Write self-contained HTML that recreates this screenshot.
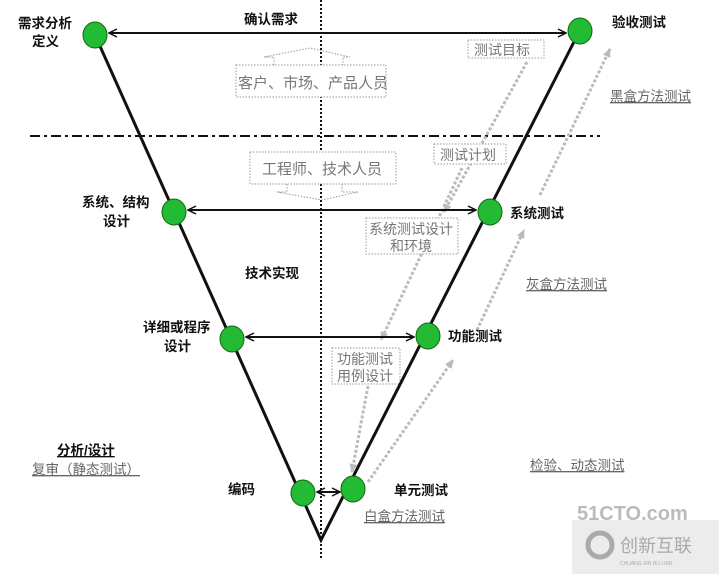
<!DOCTYPE html>
<html><head><meta charset="utf-8"><style>
html,body{margin:0;padding:0;background:#fff;}
svg{display:block;}
text{font-family:"Liberation Sans","Noto Sans CJK SC",sans-serif;}
.b{font-size:13.5px;font-weight:bold;fill:#111;}
.g{font-size:15px;fill:#777;}
.u{font-size:13.5px;fill:#666;text-decoration:underline;}
</style></head><body>
<svg width="719" height="574" viewBox="0 0 719 574" xmlns="http://www.w3.org/2000/svg">
<defs>
<marker id="a" markerWidth="10" markerHeight="10" refX="9" refY="5" orient="auto" markerUnits="userSpaceOnUse"><path d="M1,1 L9,5 L1,9" fill="none" stroke="#111" stroke-width="1.5"/></marker>
<marker id="ag" markerWidth="10" markerHeight="10" refX="8" refY="5" orient="auto" markerUnits="userSpaceOnUse"><path d="M0,1 L9,5 L0,9 z" fill="#bbb"/></marker>
</defs>
<line x1="321" y1="0" x2="321" y2="560" stroke="#111" stroke-width="2" stroke-dasharray="2,2"/>
<line x1="30" y1="136" x2="600" y2="136" stroke="#111" stroke-width="2" stroke-dasharray="10,4,3,4"/>
<g stroke="#bbb" stroke-width="3" stroke-dasharray="3,2" fill="none">
<line x1="527" y1="62" x2="444" y2="212" marker-end="url(#ag)"/>
<line x1="462" y1="168" x2="381" y2="340" marker-end="url(#ag)"/>
<line x1="368" y1="386" x2="352" y2="472" marker-end="url(#ag)"/>
<line x1="368" y1="482" x2="453" y2="360" marker-end="url(#ag)"/>
<line x1="477" y1="330" x2="524" y2="230" marker-end="url(#ag)"/>
<line x1="540" y1="195" x2="610" y2="49" marker-end="url(#ag)"/>
</g>
<g stroke="#999" stroke-width="1" stroke-dasharray="1.5,1.5" fill="#fff">
<rect x="236" y="65" width="150" height="32"/>
<rect x="250" y="152" width="146" height="32"/>
<rect x="468" y="40" width="76" height="18"/>
<rect x="434" y="144" width="72" height="20"/>
<rect x="366" y="218" width="92" height="36"/>
<rect x="332" y="348" width="68" height="36"/>
</g>
<g stroke="#999" stroke-width="1" stroke-dasharray="1.5,1.5" fill="none">
<path d="M274,65 V57 H264 L310,48 L350,57 H343 V65"/>
<path d="M287,184 V192 H277 L322,200 L358,192 H342 V184"/>
</g>
<g class="g">
<text x="238" y="88">客户、市场、产品人员</text>
<text x="262" y="174">工程师、技术人员</text>
<text x="474" y="55" font-size="14">测试目标</text>
<text x="440" y="160" font-size="14">测试计划</text>
<text x="369" y="234" font-size="14">系统测试设计</text>
<text x="390" y="251" font-size="14">和环境</text>
<text x="337" y="364" font-size="14">功能测试</text>
<text x="337" y="381" font-size="14">用例设计</text>
</g>
<polyline points="95,35 321,540 580,30" fill="none" stroke="#111" stroke-width="3"/>
<g stroke="#111" stroke-width="2">
<line x1="566" y1="33" x2="109" y2="33" marker-end="url(#a)"/>
<line x1="110" y1="33" x2="566" y2="33" marker-end="url(#a)"/>
<line x1="188" y1="210" x2="476" y2="210" marker-end="url(#a)"/>
<line x1="476" y1="210" x2="188" y2="210" marker-end="url(#a)"/>
<line x1="246" y1="337" x2="414" y2="337" marker-end="url(#a)"/>
<line x1="414" y1="337" x2="246" y2="337" marker-end="url(#a)"/>
<line x1="317" y1="492" x2="340" y2="492" marker-end="url(#a)"/>
<line x1="340" y1="492" x2="317" y2="492" marker-end="url(#a)"/>
</g>
<g fill="#22bb33" stroke="#116611" stroke-width="1">
<ellipse cx="95" cy="35" rx="12" ry="13"/>
<ellipse cx="174" cy="212" rx="12" ry="13"/>
<ellipse cx="232" cy="339" rx="12" ry="13"/>
<ellipse cx="303" cy="493" rx="12" ry="13"/>
<ellipse cx="353" cy="489" rx="12" ry="13"/>
<ellipse cx="428" cy="336" rx="12" ry="13"/>
<ellipse cx="490" cy="212" rx="12" ry="13"/>
<ellipse cx="580" cy="31" rx="12" ry="13"/>
</g>
<g class="b">
<text x="244" y="24">确认需求</text>
<text x="18" y="28">需求分析</text>
<text x="32" y="46">定义</text>
<text x="82" y="207">系统、结构</text>
<text x="103" y="226">设计</text>
<text x="245" y="278">技术实现</text>
<text x="143" y="332">详细或程序</text>
<text x="164" y="351">设计</text>
<text x="228" y="494">编码</text>
<text x="394" y="495">单元测试</text>
<text x="448" y="341">功能测试</text>
<text x="510" y="218">系统测试</text>
<text x="612" y="27">验收测试</text>
<text x="57" y="455" text-decoration="underline">分析/设计</text>
</g>
<g class="u">
<text x="32" y="474">复审（静态测试）</text>
<text x="364" y="521">白盒方法测试</text>
<text x="530" y="470">检验、动态测试</text>
<text x="526" y="289">灰盒方法测试</text>
<text x="610" y="101">黑盒方法测试</text>
</g>
<text x="577" y="520" font-size="20" font-weight="bold" fill="#bbb">51CTO.com</text>
<rect x="572" y="520" width="147" height="54" fill="#ececec"/>
<circle cx="600" cy="545" r="12" fill="none" stroke="#aaa" stroke-width="5"/>
<text x="620" y="552" font-size="18" fill="#aaa">创新互联</text>
<text x="620" y="565" font-size="5" fill="#aaa">CHUANG XIN HU LIAN</text>
</svg>
</body></html>
